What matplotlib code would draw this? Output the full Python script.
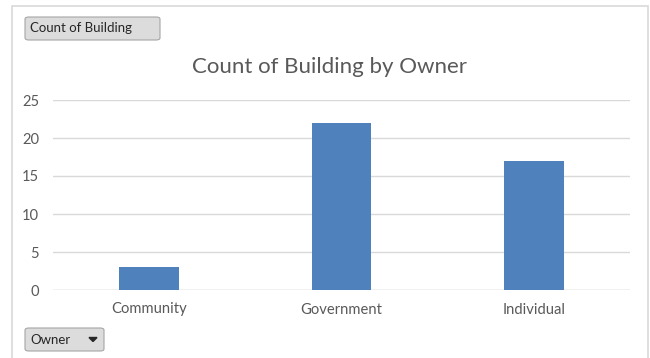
import matplotlib
matplotlib.use("Agg")
import matplotlib.pyplot as plt
from matplotlib.patches import FancyBboxPatch, Rectangle, Polygon

categories = ["Community", "Government", "Individual"]
counts = [3, 22, 17]
yticks = [0, 5, 10, 15, 20, 25]

plt.rcParams['font.family'] = ['Lato', 'DejaVu Sans']

W, H = 650, 358
fig = plt.figure(figsize=(6.5, 3.58), dpi=100)

def fx(px):
    return px / W

def fy(py):
    return 1 - py / H

# outer chart border
fig.add_artist(Rectangle((fx(12), fy(362)), fx(648) - fx(12), fy(6) - fy(362),
                         transform=fig.transFigure, fill=False,
                         edgecolor="#d9d9d9", linewidth=1.2))

ax = fig.add_axes([fx(53), fy(290), fx(630) - fx(53), fy(100) - fy(290)])
x = range(len(categories))
ax.bar(x, counts, width=0.31, color="#4f81bd", zorder=3)
ax.set_xlim(-0.5, 2.5)
ax.set_ylim(0, 25)
ax.set_yticks(yticks)
ax.set_xticks(list(x))
ax.set_xticklabels(categories)
ax.grid(axis="y", color="#d9d9d9", linewidth=1, zorder=0)
for s in ax.spines.values():
    s.set_visible(False)
ax.tick_params(axis="both", length=0, colors="#595959", labelsize=10.6)
ax.tick_params(axis="y", pad=10)
ax.tick_params(axis="x", pad=9)
ax.axhline(0, color="#d9d9d9", linewidth=1, zorder=2)

fig.text(fx(330), fy(67), "Count of Building by Owner", ha="center", va="center",
         fontsize=16, color="#595959")

def button(x0, y0, x1, y1, label, arrow=False):
    fig.add_artist(FancyBboxPatch((fx(x0), fy(y1)), fx(x1) - fx(x0), fy(y0) - fy(y1),
                                  boxstyle="round,pad=0,rounding_size=0.006",
                                  transform=fig.transFigure, facecolor="#dcdcdc",
                                  edgecolor="#a6a6a6", linewidth=0.8))
    fig.text(fx(x0 + 5), fy((y0 + y1) / 2), label, ha="left", va="center",
             fontsize=9.5, color="#262626")
    if arrow:
        cx, cy = 93, (y0 + y1) / 2
        fig.add_artist(Polygon([(fx(cx - 4), fy(cy - 2)), (fx(cx + 4), fy(cy - 2)),
                                (fx(cx), fy(cy + 2))], closed=True,
                               transform=fig.transFigure, color="#262626"))

button(25, 17, 160, 40, "Count of Building")
button(25, 328, 104, 351, "Owner", arrow=True)

fig.savefig("out.png", dpi=100)
